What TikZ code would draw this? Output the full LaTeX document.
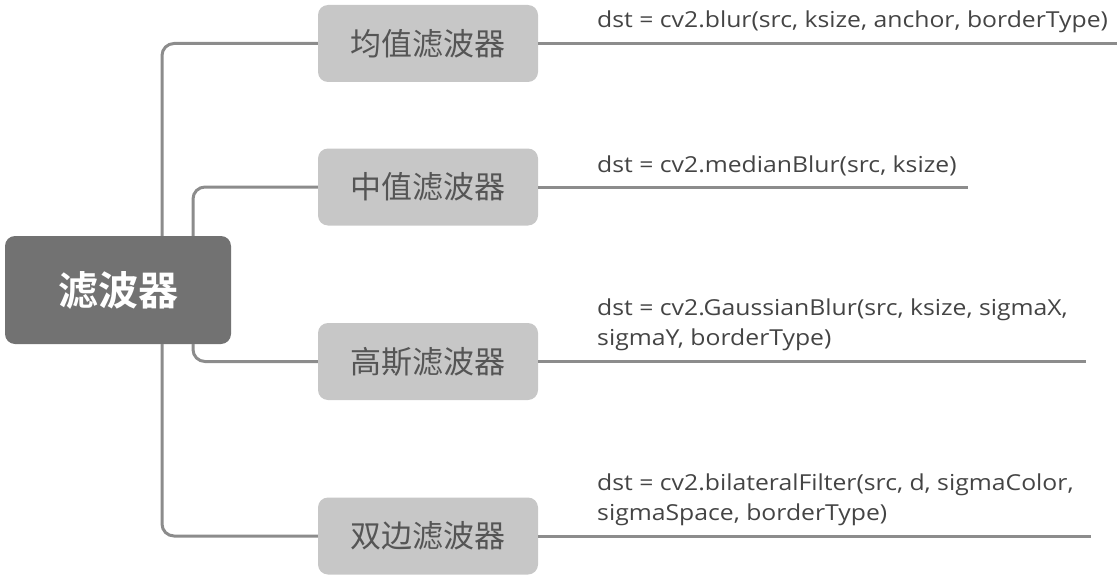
\documentclass[tikz,border=0pt]{standalone}
\usepackage{fontspec}
\usepackage{tikz}
\newfontfamily\cjk{Noto Sans CJK SC}[BoldFont={Noto Sans CJK SC Bold}]
\newfontfamily\code{Open Sans}[FakeStretch=1.125]
\definecolor{rootc}{RGB}{114, 114, 114}
\definecolor{boxc}{RGB}{199, 199, 199}
\definecolor{boxtext}{RGB}{85, 85, 85}
\definecolor{linec}{RGB}{140, 140, 140}
\definecolor{codec}{RGB}{68, 68, 68}

\begin{document}
\begin{tikzpicture}[
root/.style={rectangle, rounded corners=10pt, fill=rootc, minimum width=226pt, minimum height=108pt, inner sep=0pt, text=white, font=\cjk\bfseries\fontsize{40}{40}\selectfont},
leaf/.style={rectangle, rounded corners=10pt, fill=boxc, minimum width=220pt, minimum height=77pt, inner sep=0pt, text=boxtext, font=\cjk\fontsize{31}{31}\selectfont},
link/.style={line width=3pt, color=linec, rounded corners=12pt},
call/.style={inner sep=0pt, align=left, text=codec, font=\code\fontsize{22}{30}\selectfont}]
\useasboundingbox (0pt, 0pt) rectangle (1117pt, -578pt);
\node (root) [root] at (118pt, -290pt) {滤波器};
\node (mean) [leaf] at (428pt, -43.5pt) {均值滤波器};
\node (median) [leaf] at (428pt, -187pt) {中值滤波器};
\node (gauss) [leaf] at (428pt, -361.5pt) {高斯滤波器};
\node (bilat) [leaf] at (428pt, -536pt) {双边滤波器};
\coordinate (outer) at (162pt, -290pt);
\coordinate (inner) at (193pt, -290pt);
\coordinate (meanend) at (1117pt, -43.5pt);
\coordinate (medianend) at (968pt, -187pt);
\coordinate (gaussend) at (1086pt, -361.5pt);
\coordinate (bilatend) at (1091pt, -536pt);
\node (meancall) [call, anchor=base west] at (597pt, -28pt) {dst = cv2.blur(src, ksize, anchor, borderType)};
\node (mediancall) [call, anchor=base west] at (597pt, -172pt) {dst = cv2.medianBlur(src, ksize)};
\node (gausscall) [call, anchor=base west] at (597pt, -345pt) {dst = cv2.GaussianBlur(src, ksize, sigmaX,\\sigmaY, borderType)};
\node (bilatcall) [call, anchor=base west] at (597pt, -520pt) {dst = cv2.bilateralFilter(src, d, sigmaColor,\\sigmaSpace, borderType)};
\draw [link] (root.north -| outer) |- (mean.west);
\draw [link] (root.north -| inner) |- (median.west);
\draw [link] (root.south -| inner) |- (gauss.west);
\draw [link] (root.south -| outer) |- (bilat.west);
\draw [link] (mean.east) -- (meanend);
\draw [link] (median.east) -- (medianend);
\draw [link] (gauss.east) -- (gaussend);
\draw [link] (bilat.east) -- (bilatend);
\end{tikzpicture}
\end{document}
